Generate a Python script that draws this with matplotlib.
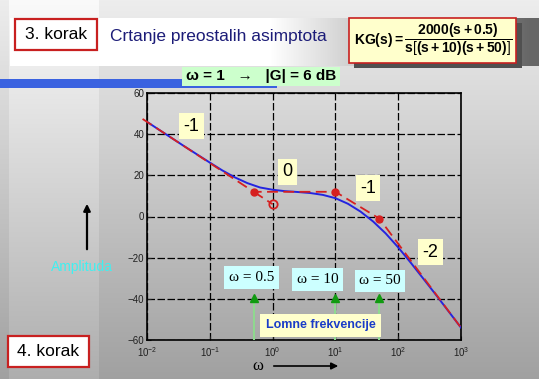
import matplotlib
matplotlib.use("Agg")
import matplotlib.pyplot as plt
import numpy as np
from matplotlib.patches import Rectangle, FancyArrowPatch

plt.rcParams['font.family'] = ['Liberation Sans', 'DejaVu Sans']
plt.rcParams['mathtext.fontset'] = 'custom'
plt.rcParams['mathtext.rm'] = 'Liberation Sans'
plt.rcParams['mathtext.bf'] = 'Liberation Sans:bold'
plt.rcParams['mathtext.it'] = 'Liberation Sans:italic'

# exact magnitude curve (rad/s, dB)
omega = [0.01, 0.0158, 0.0251, 0.0398, 0.0631, 0.1, 0.158, 0.251, 0.398, 0.631,
         1.0, 1.58, 2.51, 3.98, 6.31, 10.0, 15.8, 25.1, 39.8, 63.1,
         100.0, 158.0, 251.0, 398.0, 631.0, 1000.0]
mag_db = [46.0, 42.0, 38.0, 34.0, 30.1, 26.2, 22.4, 19.0, 16.2, 14.1,
          13.0, 12.3, 11.9, 11.4, 10.5, 8.9, 6.2, 2.4, -2.4, -8.2,
          -15.0, -22.4, -30.2, -38.0, -46.0, -54.0]

# straight-line asymptotes
asym_w = [0.0085, 0.5, 10.0, 50.0, 1000.0]
asym_db = [47.4, 12.0, 12.0, -1.0, -54.0]
ext_w = [0.5, 1.0]
ext_db = [12.0, 6.0]

break_w = [0.5, 10.0, 50.0]
break_db = [12.0, 12.0, -1.0]
break_labels = ['ω = 0.5', 'ω = 10', 'ω = 50']

W, H = 539, 379
fig = plt.figure(figsize=(W / 100, H / 100), dpi=100)


def fx(x):
    return x / W


def fy(y):
    return 1 - y / H


# slide background
bg = fig.add_axes([0, 0, 1, 1], zorder=-10)
yy = np.linspace(0, 1, H)[:, None]
xx = np.arange(W)[None, :]
img = 0.93 - 0.30 * yy + 0 * xx
img = img.copy()
img[:, 9:99] += 0.05
hx = np.clip((np.arange(W) - 270) / 260.0, 0, 1)
img[18:66, 10:] = (1.0 - 0.6 * hx[10:])[None, :]
img = np.clip(img, 0, 1)
bg.imshow(np.dstack([img, img, img]), aspect='auto', extent=[0, W, H, 0])
bg.set_axis_off()

# header
fig.add_artist(Rectangle((fx(0), fy(88)), fx(277), 9 / H, transform=fig.transFigure,
                         facecolor='#3a62e0', edgecolor='none'))
fig.add_artist(Rectangle((fx(182), fy(86)), fx(158), 19 / H, transform=fig.transFigure,
                         facecolor='#ccffcc', edgecolor='none'))
fig.text(fx(261), fy(76), 'ω = 1   →   |G| = 6 dB', ha='center', va='center',
         fontsize=11, fontweight='bold')

for (x0, y0, x1, y1, txt) in [(15, 19, 97, 50, '3. korak'), (8, 336, 89, 367, '4. korak')]:
    fig.add_artist(Rectangle((fx(x0), fy(y1)), fx(x1 - x0), (y1 - y0) / H,
                             transform=fig.transFigure, facecolor='white',
                             edgecolor='#c82020', linewidth=1.6))
    fig.text(fx((x0 + x1) / 2), fy((y0 + y1) / 2), txt, ha='center', va='center',
             fontsize=12.5)

fig.text(fx(110), fy(36), 'Crtanje preostalih asimptota', ha='left', va='center',
         fontsize=12.5, color='#1c1c78')

fig.add_artist(Rectangle((fx(354), fy(68)), fx(168), 45 / H, transform=fig.transFigure,
                         facecolor='#505050', edgecolor='none'))
fig.add_artist(Rectangle((fx(349), fy(63)), fx(167), 45 / H, transform=fig.transFigure,
                         facecolor='#ffffcc', edgecolor='#c82020', linewidth=1.2))
fig.text(fx(433), fy(40), r'$\mathbf{KG(s) = \dfrac{2000(s+0.5)}{s\left[(s+10)(s+50)\right]}}$',
         ha='center', va='center', fontsize=10)

# left / bottom axis captions
fig.text(fx(82), fy(267), 'Amplituda', ha='center', va='center', fontsize=10,
         color='#40f0f0')
fig.add_artist(FancyArrowPatch((fx(87), fy(252)), (fx(87), fy(201)), transform=fig.transFigure,
                               arrowstyle='-|>', mutation_scale=10, color='black', linewidth=1.6))
fig.text(fx(258), fy(366), 'ω', ha='center', va='center', fontsize=12,
         family='Liberation Serif')
fig.add_artist(FancyArrowPatch((fx(271), fy(366)), (fx(341), fy(366)), transform=fig.transFigure,
                               arrowstyle='-|>', mutation_scale=10, color='black', linewidth=1.2))

# Bode plot
ax = fig.add_axes([fx(147), fy(340), fx(314), 247 / H])
ax.set_facecolor('none')
ax.set_xscale('log')
ax.set_xlim(1e-2, 1e3)
ax.set_ylim(-60, 60)
ax.set_yticks(np.arange(-60, 61, 20))
ax.xaxis.set_minor_locator(matplotlib.ticker.NullLocator())
ax.tick_params(direction='in', length=3, labelsize=7, colors='#202020', pad=2)
ax.tick_params(axis='x', pad=4)
ax.grid(True, color='black', linestyle=(0, (6, 2)), linewidth=0.9)
for s in ax.spines.values():
    s.set_linewidth(1.2)

ax.plot(omega, mag_db, color='#2424e0', linewidth=1.4, zorder=3)
ax.plot(asym_w, asym_db, color='#d62020', linewidth=1.3, linestyle=(0, (6, 3)),
        zorder=4, clip_on=False)
ax.plot(ext_w, ext_db, color='#d62020', linewidth=1.3, linestyle=(0, (6, 3)), zorder=4)
ax.plot(break_w, break_db, 'o', color='#d62020', markersize=5, zorder=5)
ax.plot([1.0], [6.0], 'o', markerfacecolor='none', markeredgecolor='#d62020',
        markeredgewidth=1.3, markersize=6, zorder=5)

# break-frequency arrows
ax.vlines(break_w, -60, -40, color='#8fd88f', linewidth=1.5, zorder=3)
ax.plot(break_w, [-39.5] * 3, '^', color='#109a10', markersize=6, zorder=3)

yellow = dict(boxstyle='square,pad=0.25', facecolor='#ffffcc', edgecolor='none')
cyan = dict(boxstyle='square,pad=0.3', facecolor='#ccffff', edgecolor='none')
for (w, d, t) in [(0.0512, 43.9, '-1'), (1.73, 21.7, '0'), (33.0, 13.7, '-1'), (327.0, -17.4, '-2')]:
    ax.text(w, d, t, ha='center', va='center', fontsize=13, bbox=yellow, zorder=6)
for (w, d), t in zip([(0.461, -29.6), (5.19, -30.6), (51.4, -31.3)], break_labels):
    ax.text(w, d, t, ha='center', va='center', fontsize=11, family='Liberation Serif',
            bbox=cyan, zorder=6)
ax.text(5.8, -52.9, 'Lomne frekvencije', ha='center', va='center', fontsize=9,
        fontweight='bold', color='#1a3cc8',
        bbox=dict(boxstyle='square,pad=0.45', facecolor='#ffffcc', edgecolor='none'), zorder=6)

fig.savefig('out.png', dpi=100)
